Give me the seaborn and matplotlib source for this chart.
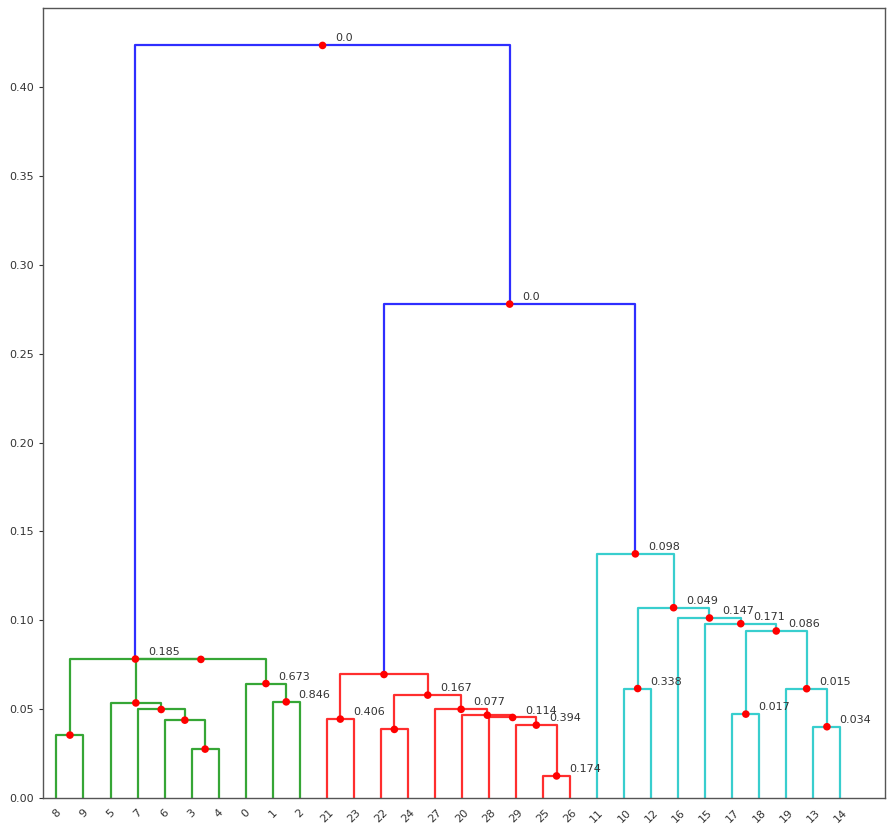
import matplotlib
matplotlib.use("Agg")
import matplotlib.pyplot as plt
import seaborn as sns
import pandas as pd

# ---- data ----
leaf_order = [8, 9, 5, 7, 6, 3, 4, 0, 1, 2,
              21, 23, 22, 24, 27, 20, 28, 29, 25, 26,
              11, 10, 12, 16, 15, 17, 18, 19, 13, 14]

# merges (scipy-style: leaves are 0..29, merged nodes get ids 30, 31, ...)
merge_left = [25, 3, 8, 22, 13, 29, 6, 21, 28, 20, 17, 7, 27, 5, 1,
              33, 19, 10, 0, 37, 43, 32, 40, 15, 16, 47, 11, 49, 51]
merge_right = [26, 4, 9, 24, 14, 30, 31, 23, 35, 38, 18, 36, 39, 41, 2,
               42, 34, 12, 44, 45, 48, 50, 46, 52, 53, 54, 55, 56, 57]
merge_height = [0.0124, 0.0275, 0.0354, 0.0386, 0.0401, 0.0410, 0.0438, 0.0444,
                0.0453, 0.0466, 0.0472, 0.0498, 0.0499, 0.0535, 0.0541, 0.0579,
                0.0615, 0.0616, 0.0644, 0.0695, 0.0780, 0.0782, 0.0940, 0.0981,
                0.1013, 0.1071, 0.1374, 0.2780, 0.4236]
merge_label = ["0.174", "", "", "", "0.034", "0.394", "", "0.406",
               "0.114", "", "0.017", "", "0.077", "", "0.846", "0.167",
               "0.015", "0.338", "0.673", "", "", "0.185", "0.086", "0.171",
               "0.147", "0.049", "0.098", "0.0", "0.0"]
merge_group = ["r", "g", "g", "r", "c", "r", "g", "r",
               "r", "r", "c", "g", "r", "g", "g", "r",
               "c", "c", "g", "r", "g", "g", "c", "c",
               "c", "c", "c", "b", "b"]

group_colors = {"g": "#36a636", "r": "#ff2e2e", "c": "#38cece", "b": "#2e2eff"}

# ---- layout (dendrogram coordinates) ----
n_leaves = len(leaf_order)
xpos = {leaf: 5 + 10 * i for i, leaf in enumerate(leaf_order)}
ypos = {leaf: 0.0 for leaf in leaf_order}
links = []
for k, (a, b, h) in enumerate(zip(merge_left, merge_right, merge_height)):
    node = n_leaves + k
    xa, xb = xpos[a], xpos[b]
    if xa > xb:
        a, b, xa, xb = b, a, xb, xa
    links.append(([xa, xa, xb, xb], [ypos[a], h, h, ypos[b]], merge_group[k]))
    xpos[node] = (xa + xb) / 2
    ypos[node] = h

sns.set_style("ticks")
fig = plt.figure(figsize=(8.94, 8.30), dpi=100)
ax = fig.add_axes([0.048, 0.0386, 0.942, 0.952])

for xs, ys, g in links:
    ax.plot(xs, ys, color=group_colors[g], lw=1.6, solid_capstyle="butt", zorder=1)

dots = pd.DataFrame({
    "x": [xpos[n_leaves + k] for k in range(len(merge_height))],
    "y": merge_height,
    "label": merge_label,
})
sns.scatterplot(data=dots, x="x", y="y", color="#ff0000", s=30,
                edgecolor="none", ax=ax, zorder=3)
for _, r in dots.iterrows():
    if r["label"]:
        ax.annotate(r["label"], (r["x"], r["y"]), xytext=(9, 5),
                    textcoords="offset points", ha="left", va="center",
                    fontsize=8, color="#333333")

ax.set_xlim(0, 311.5)
ax.set_ylim(0, max(merge_height) * 1.05)
ax.set_xticks([5 + 10 * i for i in range(n_leaves)])
ax.set_xticklabels([str(l) for l in leaf_order], rotation=45, fontsize=8)
for t in ax.get_xticklines():
    t.set_visible(False)
ax.set_yticks([0.0, 0.05, 0.10, 0.15, 0.20, 0.25, 0.30, 0.35, 0.40])
ax.set_yticklabels([f"{v:.2f}" for v in ax.get_yticks()], fontsize=8)
ax.tick_params(axis="y", length=3, colors="#333333")
ax.tick_params(axis="x", colors="#333333")
ax.set_xlabel("")
ax.set_ylabel("")
for s in ax.spines.values():
    s.set_visible(True)
    s.set_color("#555555")
    s.set_linewidth(1.0)

fig.savefig("out.png", dpi=100)
